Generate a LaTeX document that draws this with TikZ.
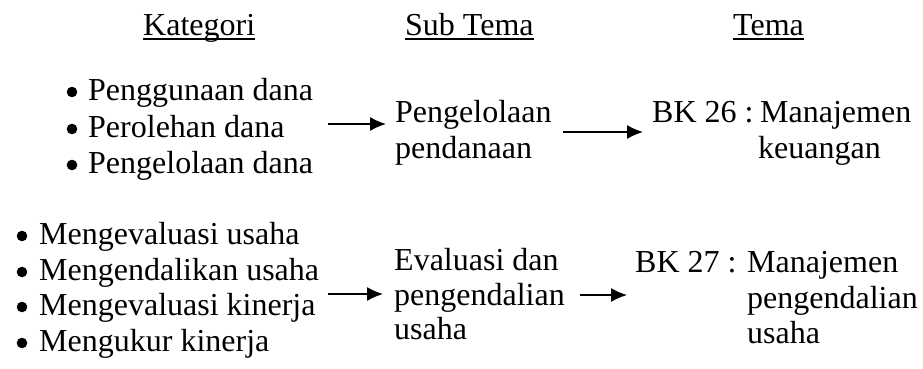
\documentclass[tikz,border=0pt]{standalone}
\usepackage{fontspec}
\setmainfont{Liberation Serif}
\frenchspacing
\usetikzlibrary{arrows.meta,calc}
\begin{document}
\begin{tikzpicture}[x=1pt,y=-1pt,
  txt/.style={anchor=base west,inner sep=0pt,font=\fontsize{32}{36}\selectfont},
  dot/.style={fill=black},
  uline/.style={line width=1.8pt},
  flow/.style={line width=1.3pt,-{Latex[length=16pt,width=14pt]}}]
\useasboundingbox (0,0) rectangle (923,369);

% column headings
\node[txt] (hkat) at (143,36) {Kategori};
\node[txt] (hsub) at (405,36) {Sub Tema};
\node[txt] (htema) at (733,36) {Tema};
\foreach \h in {hkat,hsub,htema}
  \draw[uline] ($(\h.base west)+(0,3)$) -- ($(\h.base east)+(0,3)$);

% first group of categories
\node[txt] (k1) at (88,100) {Penggunaan dana};
\node[txt] (k2) at (88,137) {Perolehan dana};
\node[txt] (k3) at (88,173) {Pengelolaan dana};
\foreach \k in {k1,k2,k3}
  \fill[dot] ($(\k.base west)+(-16,-8)$) circle[radius=5.3pt];

\node[txt] (s1a) at (395,122) {Pengelolaan};
\node[txt] (s1b) at (395,158) {pendanaan};

\node[txt] (t1k) at (652,122) {BK 26 :};
\node[txt] (t1a) at (760,122) {Manajemen};
\node[txt] (t1b) at (758,158) {keuangan};

% second group of categories
\node[txt] (k4) at (39,244) {Mengevaluasi usaha};
\node[txt] (k5) at (39,280) {Mengendalikan usaha};
\node[txt] (k6) at (39,315) {Mengevaluasi kinerja};
\node[txt] (k7) at (39,351) {Mengukur kinerja};
\foreach \k in {k4,k5,k6,k7}
  \fill[dot] ($(\k.base west)+(-17,-8)$) circle[radius=5.3pt];

\node[txt] (s2a) at (394,270) {Evaluasi dan};
\node[txt] (s2b) at (394,305) {pengendalian};
\node[txt] (s2c) at (394,339) {usaha};

\node[txt] (t2k) at (635,272) {BK 27 :};
\node[txt] (t2a) at (747,272) {Manajemen};
\node[txt] (t2b) at (747,308) {pengendalian};
\node[txt] (t2c) at (747,343) {usaha};

% arrow end points
\coordinate (a1s) at (328,124);
\coordinate (a1e) at (386,124);
\coordinate (a2s) at (563,132);
\coordinate (a2e) at (643,132);
\coordinate (a3s) at (328,294);
\coordinate (a3e) at (383,294);
\coordinate (a4s) at (580,295);
\coordinate (a4e) at (627,295);

\draw[flow] (a1s) -- (a1e);
\draw[flow] (a2s) -- (a2e);
\draw[flow] (a3s) -- (a3e);
\draw[flow] (a4s) -- (a4e);
\end{tikzpicture}
\end{document}
